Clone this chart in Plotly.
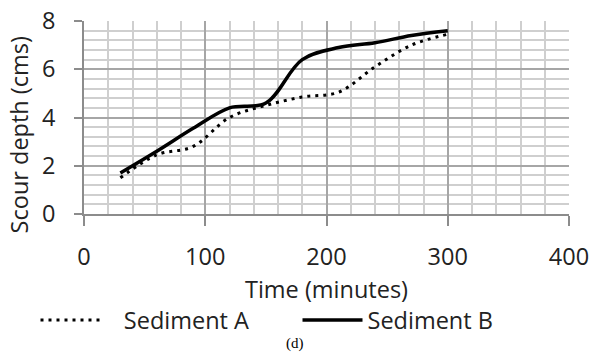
import plotly.graph_objects as go

time_min = [30, 60, 90, 120, 150, 180, 210, 240, 270, 300]
sediment_a = [1.5, 2.45, 2.8, 4.0, 4.5, 4.85, 5.05, 6.1, 7.0, 7.45]
sediment_b = [1.7, 2.6, 3.55, 4.4, 4.6, 6.4, 6.9, 7.1, 7.4, 7.6]

FONT = "Open Sans"

fig = go.Figure()
fig.add_trace(go.Scatter(x=time_min, y=sediment_a, mode="lines", name="   Sediment A",
                         line=dict(color="black", width=3, dash="3px,5px", shape="spline")))
fig.add_trace(go.Scatter(x=time_min, y=sediment_b, mode="lines", name="Sediment B",
                         line=dict(color="black", width=3.5, shape="spline")))

fig.update_layout(
    width=593, height=354,
    margin=dict(l=83.5, r=23.5, t=21, b=140, autoexpand=False),
    paper_bgcolor="white", plot_bgcolor="white",
    font=dict(family=FONT, size=23.5, color="#222"),
    legend=dict(orientation="h", x=-0.1, xanchor="left", y=-0.55, yanchor="middle",
                font=dict(size=23.5), itemwidth=60, entrywidth=187, tracegroupgap=0),
    xaxis=dict(range=[0, 400], dtick=100, tick0=0, showgrid=True, gridcolor="#a6a6a6", gridwidth=1.5,
               showline=True, linecolor="#8c8c8c", linewidth=1.5,
               ticks="outside", ticklen=10, tickcolor="#8c8c8c", tickwidth=1.5,
               minor=dict(dtick=20, showgrid=True, gridcolor="#cfcfcf", gridwidth=1.5),
               zeroline=False, ticklabelstandoff=11,
               title=dict(text="Time (minutes)", standoff=11, font=dict(size=23.5))),
    yaxis=dict(range=[0, 8], dtick=2, tick0=0, showgrid=True, gridcolor="#a6a6a6", gridwidth=1.5,
               showline=True, linecolor="#8c8c8c", linewidth=1.5,
               ticks="outside", ticklen=8, tickcolor="#8c8c8c", tickwidth=1.5,
               minor=dict(dtick=0.4, showgrid=True, gridcolor="#cfcfcf", gridwidth=1.5),
               zeroline=False, ticklabelstandoff=14),
    annotations=[
        dict(text="Scour depth (cms)", xref="paper", yref="paper", x=-0.135, y=0.41,
             textangle=-90, xanchor="center", yanchor="middle", showarrow=False,
             font=dict(size=23.5)),
        dict(text="(d)", xref="paper", yref="paper", x=0.435, y=-0.67,
             xanchor="center", yanchor="middle", showarrow=False,
             font=dict(family="Liberation Serif", size=15, color="black")),
    ],
)

fig.write_html("out.html")
